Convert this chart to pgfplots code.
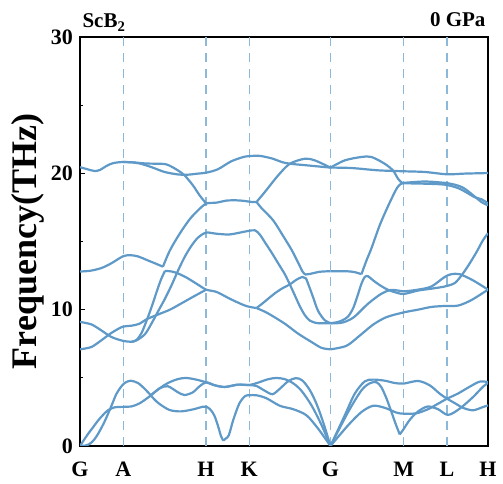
\documentclass[border=0pt]{standalone}
\usepackage{fontspec}
\setmainfont{Liberation Serif}
\usepackage{pgfplots}
\pgfplotsset{compat=1.18}
\definecolor{bandblue}{RGB}{94,153,199}
\definecolor{kpath}{RGB}{140,184,217}
\pgfplotsset{
  bnd/.style={bandblue, line width=2.2pt, mark=none, smooth, tension=0.5},
  kl/.style={kpath, line width=1.3pt, mark=none, dash pattern=on 9pt off 7pt},
}
\begin{document}
\begin{tikzpicture}
\path[use as bounding box] (0,0) rectangle (503pt,484pt);
\begin{axis}[
  at={(80pt,38pt)}, anchor=south west,
  scale only axis, width=408pt, height=409pt,
  xmin=0, xmax=1225, ymin=0, ymax=30,
  axis line style={line width=1.6pt},
  xtick={0,130,378,508,752,972,1102,1225},
  xticklabels={G,A,H,K,G,M,L,H},
  major x tick style={draw=none},
  ytick={0,10,20,30}, minor ytick={5,15,25},
  ytick pos=left, tick align=inside,
  major tick length=5pt, minor tick length=3pt,
  tick style={line width=1pt, black},
  /pgf/number format/assume math mode=true,
  ticklabel style={font=\fontsize{22}{24}\selectfont\bfseries},
  xticklabel style={inner sep=1pt, yshift=-15pt},
  yticklabel style={inner sep=1pt, xshift=-6pt},
  ylabel={Frequency(THz)},
  ylabel style={font=\fontsize{36}{40}\selectfont\bfseries,
    at={(axis description cs:-0.127,0.5)}, anchor=center},
]
% high-symmetry lines
\addplot[kl] coordinates {(130,30)(130,0)};
\addplot[kl] coordinates {(378,30)(378,0)};
\addplot[kl] coordinates {(508,30)(508,0)};
\addplot[kl] coordinates {(752,30)(752,0)};
\addplot[kl] coordinates {(972,30)(972,0)};
\addplot[kl] coordinates {(1102,30)(1102,0)};

% acoustic, G-A-H-K-G
\addplot[bnd] coordinates {(0,0)(12,0.45)(24,0.88)(40,1.4)(54,1.86)(70,2.3)(84,2.62)(104,2.84)(128,2.87)(154,2.9)(179,3.13)(209,3.64)(239,4.23)(264,4.62)(294,4.91)(319,4.99)(349,4.87)(379,4.67)(405,4.45)(435,4.33)(474,4.5)(508,4.47)(535,4.65)(565,4.9)(590,4.99)(615,4.9)(640,4.6)(665,4.05)(695,2.98)(725,1.55)(752,0)};
\addplot[bnd] coordinates {(209,3.64)(239,4.23)(264,4.38)(294,3.94)(314,3.74)(339,3.94)(359,4.38)(379,4.67)(405,4.45)(435,4.33)(474,4.5)(508,4.47)(530,4.4)(555,4.05)(578,3.8)(600,4.2)(625,4.75)(648,4.98)(668,4.8)(690,4.1)(710,3.1)(730,1.75)(752,0)};
\addplot[bnd] coordinates {(0,0)(15,0.03)(29,0.15)(42,0.45)(54,0.88)(70,1.6)(84,2.35)(97,3.1)(109,3.81)(122,4.3)(134,4.62)(152,4.79)(174,4.62)(194,4.2)(209,3.81)(224,3.4)(239,3.08)(269,2.64)(304,2.54)(344,2.71)(368,2.88)(382,2.85)(394,2.6)(404,2.2)(414,1.5)(423,0.75)(430,0.4)};
\addplot[bnd] coordinates {(430,0.4)(438,0.55)(447,0.8)(460,1.9)(478,3.1)(495,3.65)(508,3.72)(530,3.72)(560,3.5)(600,2.95)(640,2.7)(680,2.25)(715,1.27)(752,0)};

% acoustic, G-M-L-H
\addplot[bnd] coordinates {(752,0)(795,2.25)(825,3.84)(855,4.74)(880,4.87)(915,4.79)(945,4.62)(972,4.58)(1015,4.77)(1050,4.45)(1080,3.84)(1102,3.47)(1125,3.15)(1150,2.8)(1180,2.62)(1210,2.86)(1225,2.98)};
\addplot[bnd] coordinates {(752,0)(805,2.49)(845,4.08)(870,4.6)(890,4.68)(905,4.3)(920,3.5)(935,2.5)(948,1.6)(960,0.85)};
\addplot[bnd] coordinates {(960,0.85)(972,1.25)(985,1.75)(1000,2.2)(1020,2.62)(1045,2.9)(1075,2.7)(1105,2.28)(1140,2.74)(1180,3.59)(1210,4.35)(1225,4.62)};
\addplot[bnd] coordinates {(752,0)(805,1.52)(845,2.49)(880,2.95)(915,2.8)(950,2.45)(972,2.37)(1010,2.4)(1045,2.7)(1075,3.1)(1102,3.47)(1135,3.85)(1170,4.35)(1200,4.72)(1225,4.69)};

% optical, G-A-H-K-G
\addplot[bnd] coordinates {(0,7.09)(34,7.26)(64,7.75)(94,8.29)(128,8.75)(154,8.82)(179,8.97)(200,9.3)(240,9.7)(270,10.0)(300,10.4)(340,10.95)(379,11.47)};
\addplot[bnd] coordinates {(0,9.1)(34,8.92)(64,8.48)(94,8.0)(128,7.72)(155,7.65)(170,7.78)(185,8.3)(200,9.2)(215,10.2)(230,11.3)(243,12.2)(255,12.84)};
\addplot[bnd] coordinates {(255,12.84)(270,12.82)(290,12.7)(320,12.35)(350,11.9)(379,11.47)(410,11.3)(450,10.8)(490,10.35)(510,10.2)(530,10.12)};
\addplot[bnd] coordinates {(530,10.12)(555,9.85)(575,9.58)(615,8.97)(655,8.24)(695,7.63)(725,7.2)(752,7.09)};
\addplot[bnd] coordinates {(155,7.65)(170,7.75)(195,8.2)(215,9.0)(235,9.9)(255,10.8)(275,11.8)(295,12.9)(315,13.9)(335,14.7)(355,15.3)(379,15.65)(410,15.57)(450,15.52)(500,15.75)(525,15.82)(540,15.5)(555,14.95)(575,14.2)(595,13.4)(615,12.6)(630,11.85)(645,11.05)(660,10.25)(675,9.6)(690,9.2)(710,9.02)(730,9.0)(752,9.0)};
\addplot[bnd] coordinates {(530,10.12)(550,10.5)(585,11.2)(610,11.6)(630,11.85)(650,12.2)(668,12.4)(678,12.3)(688,11.7)(700,10.9)(715,9.9)(735,9.22)(752,9.02)};
\addplot[bnd] coordinates {(0,12.8)(30,12.85)(64,13.05)(94,13.4)(128,13.9)(150,14.0)(175,13.9)(200,13.65)(230,13.35)(249,13.15)};
\addplot[bnd] coordinates {(249,13.15)(270,14.35)(300,15.6)(330,16.65)(355,17.3)(379,17.78)(410,17.85)(440,18.0)(470,18.02)(495,17.97)(515,17.9)(530,17.9)};
\addplot[bnd] coordinates {(530,17.9)(545,17.45)(580,16.55)(610,15.4)(635,14.4)(655,13.45)(668,12.8)(676,12.58)};
\addplot[bnd] coordinates {(676,12.58)(690,12.62)(720,12.78)(752,12.82)};
\addplot[bnd] coordinates {(0,20.45)(22,20.3)(44,20.17)(60,20.25)(80,20.55)(100,20.75)(128,20.83)(160,20.8)(200,20.72)(244,20.7)(260,20.65)(274,20.5)(295,20.2)(314,19.85)(339,19.12)(359,18.39)(379,17.78)};
\addplot[bnd] coordinates {(530,17.9)(555,18.63)(595,19.85)(630,20.7)(675,21.07)(705,20.95)(752,20.42)};
\addplot[bnd] coordinates {(128,20.83)(160,20.8)(180,20.72)(214,20.46)(254,20.1)(294,19.92)(324,19.9)(350,19.97)(379,20.05)(414,20.3)(454,20.88)(494,21.22)(519,21.28)(540,21.28)(575,21.1)(610,20.8)(640,20.68)(675,20.6)(752,20.42)};

% optical, G-M-L-H
\addplot[bnd] coordinates {(752,7.09)(800,7.35)(840,8.1)(880,8.9)(920,9.45)(972,9.8)(1015,10.0)(1055,10.2)(1095,10.27)(1135,10.3)(1175,10.7)(1225,11.47)};
\addplot[bnd] coordinates {(752,9.0)(775,9.1)(790,9.25)(805,9.5)(820,10.1)(833,11.0)(845,11.9)(855,12.4)(865,12.45)(880,12.15)(900,11.8)(925,11.45)(950,11.25)(972,11.15)(1015,11.4)(1055,11.54)(1095,11.7)(1125,11.95)(1145,12.5)(1165,13.2)(1190,14.2)(1210,15.1)(1225,15.6)};
\addplot[bnd] coordinates {(752,9.0)(780,9.02)(800,9.15)(825,9.5)(865,10.44)(905,11.17)(935,11.45)(972,11.35)(1015,11.47)(1055,11.7)(1095,12.4)(1115,12.6)(1140,12.6)(1180,12.15)(1225,11.47)};
\addplot[bnd] coordinates {(752,12.82)(800,12.82)(825,12.75)(845,12.6)};
\addplot[bnd] coordinates {(845,12.6)(860,13.6)(875,14.5)(900,16.2)(925,17.6)(950,18.85)(963,19.22)(972,19.27)};
\addplot[bnd] coordinates {(972,19.27)(1035,19.24)(1095,19.17)(1135,18.92)(1160,18.6)(1185,18.25)(1205,18.1)(1225,17.8)};
\addplot[bnd] coordinates {(752,20.42)(795,20.95)(845,21.2)(875,21.2)(915,20.7)(940,20.2)(955,19.6)(966,19.32)(972,19.3)};
\addplot[bnd] coordinates {(972,19.3)(1035,19.4)(1095,19.3)(1125,19.17)(1150,18.95)(1175,18.5)(1205,17.9)(1225,17.65)};
\addplot[bnd] coordinates {(752,20.42)(815,20.39)(895,20.22)(972,20.15)(1035,20.1)(1102,19.93)(1155,19.98)(1225,20.02)};
\end{axis}
\node[anchor=base west, font=\fontsize{21}{24}\selectfont\bfseries] at (79pt,456pt) {ScB\textsubscript{2}};
\node[anchor=base east, font=\fontsize{21}{24}\selectfont\bfseries] at (489pt,457pt) {0 GPa};
\end{tikzpicture}
\end{document}
